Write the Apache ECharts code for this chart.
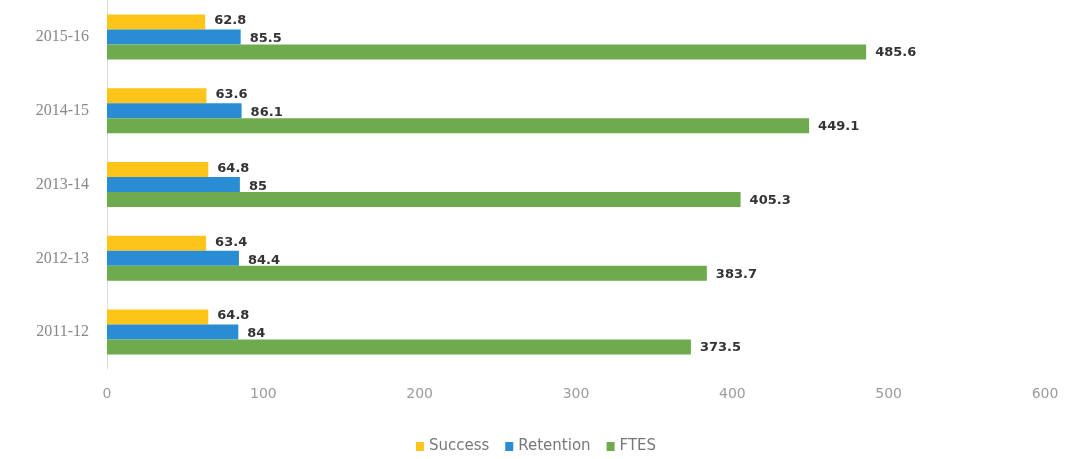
<!DOCTYPE html>
<html>
<head>
<meta charset="utf-8">
<script src="https://cdn.jsdelivr.net/npm/echarts@6/dist/echarts.min.js"></script>
<style>
html,body{margin:0;padding:0;background:#fff;}
#chart{width:1072px;height:459px;}
</style>
</head>
<body>
<div id="chart"></div>
<script>
const categories = ['2015-16', '2014-15', '2013-14', '2012-13', '2011-12'];
const success = [62.8, 63.6, 64.8, 63.4, 64.8];
const retention = [85.5, 86.1, 85, 84.4, 84];
const ftes = [485.6, 449.1, 405.3, 383.7, 373.5];
const xTicks = [0, 100, 200, 300, 400, 500, 600];

const chart = echarts.init(document.getElementById('chart'));
const labelStyle = {
  show: true,
  position: 'right',
  distance: 9,
  color: '#333',
  fontSize: 13,
  fontWeight: 'bold',
  fontFamily: 'DejaVu Sans, sans-serif'
};
function mk(name, data, color, dy) {
  return {
    name: name,
    type: 'bar',
    data: data,
    barWidth: 15,
    barGap: '0%',
    itemStyle: { color: color },
    label: Object.assign({}, labelStyle, { offset: [0, dy] }),
    emphasis: { disabled: true }
  };
}
chart.setOption({
  animation: false,
  grid: { left: 107, right: 27, top: -2, height: 371, containLabel: false },
  legend: {
    bottom: 0,
    left: 'center',
    icon: 'rect',
    itemWidth: 8,
    itemHeight: 9,
    itemGap: 16,
    textStyle: { color: '#777', fontSize: 15, fontFamily: 'DejaVu Sans, sans-serif' },
    data: ['Success', 'Retention', 'FTES']
  },
  xAxis: {
    type: 'value',
    min: xTicks[0],
    max: xTicks[xTicks.length - 1],
    interval: 100,
    axisLine: { show: false },
    axisTick: { show: false },
    splitLine: { show: false },
    axisLabel: { color: '#9c9c9c', fontSize: 14, margin: 18, fontFamily: 'DejaVu Sans, sans-serif' }
  },
  yAxis: {
    type: 'category',
    inverse: true,
    data: categories,
    axisLine: { show: true, lineStyle: { color: '#dcdcdc' } },
    axisTick: { show: false },
    axisLabel: { color: '#888', fontSize: 16, margin: 18, fontFamily: 'Liberation Serif, serif' }
  },
  series: [
    mk('Success', success, '#FDC51A', -1),
    mk('Retention', retention, '#2A8CD2', 2),
    mk('FTES', ftes, '#6EAB4E', 1)
  ]
});
</script>
</body>
</html>
